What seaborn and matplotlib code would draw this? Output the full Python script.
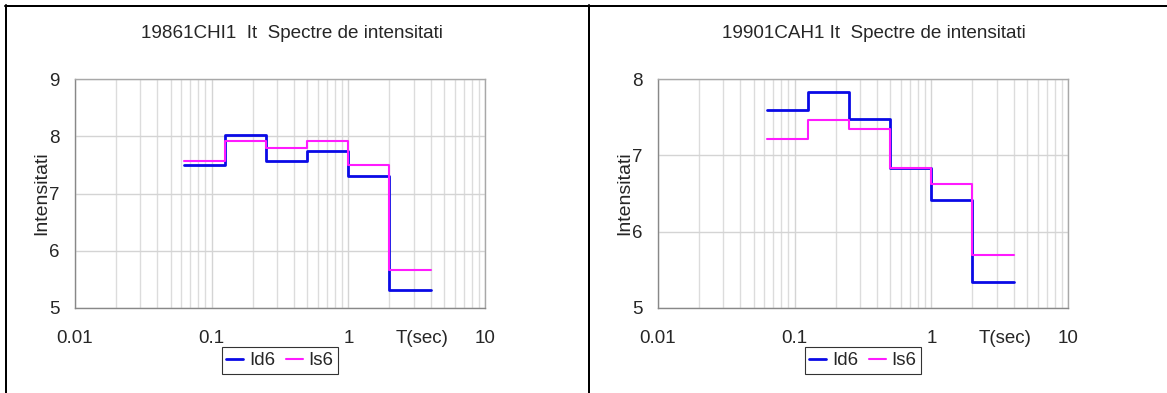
import numpy as np
import pandas as pd
import matplotlib
matplotlib.use("Agg")
import matplotlib.pyplot as plt
from matplotlib.lines import Line2D
from matplotlib.ticker import LogLocator, FixedLocator, NullFormatter
import seaborn as sns

# ---- data ----
periods = [0.0625, 0.125, 0.25, 0.5, 1, 2, 4]
left_title = "19861CHI1  It  Spectre de intensitati"
left_id6 = [7.50, 8.02, 7.57, 7.75, 7.31, 5.31]
left_is6 = [7.57, 7.92, 7.80, 7.91, 7.50, 5.66]
right_title = "19901CAH1 It  Spectre de intensitati"
right_id6 = [7.59, 7.83, 7.48, 6.83, 6.42, 5.34]
right_is6 = [7.22, 7.46, 7.35, 6.83, 6.62, 5.70]
series_names = ["Id6", "Is6"]
x_ticks = [0.01, 0.1, 1, 10]
x_tick_labels = ["0.01", "0.1", "1", "10"]
left_yticks = [5, 6, 7, 8, 9]
right_yticks = [5, 6, 7, 8]

sns.set_style("white")
plt.rcParams["font.family"] = ["Liberation Sans", "DejaVu Sans"]

W, H = 1167, 393
fig = plt.figure(figsize=(W / 100, H / 100), dpi=100)

def px_axes(x0, y0, x1, y1):
    return fig.add_axes([x0 / W, 1 - y1 / H, (x1 - x0) / W, (y1 - y0) / H])

palette = {"Id6": "#0a0ae6", "Is6": "#ff1aff"}
widths = {"Id6": 2.0, "Is6": 1.5}

def draw(ax, id6, is6, yticks, title, title_x):
    for name, vals in zip(series_names, [id6, is6]):
        df = pd.DataFrame({"T": periods, "I": list(vals) + [vals[-1]]})
        sns.lineplot(data=df, x="T", y="I", ax=ax, color=palette[name],
                     lw=widths[name], drawstyle="steps-post", label=name,
                     legend=False)
    ax.set_xscale("log")
    ax.set_xlim(0.01, 10)
    ax.set_ylim(yticks[0], yticks[-1])
    ax.xaxis.set_major_locator(FixedLocator(x_ticks))
    ax.set_xticklabels(x_tick_labels)
    ax.xaxis.set_minor_locator(LogLocator(base=10, subs=np.arange(2, 10)))
    ax.xaxis.set_minor_formatter(NullFormatter())
    ax.set_yticks(yticks)
    ax.grid(True, which="major", axis="both", color="#d4d4d4", lw=1.0)
    ax.grid(True, which="minor", axis="x", color="#dcdcdc", lw=1.0)
    ax.set_axisbelow(True)
    for s in ax.spines.values():
        s.set_color("#a8a8a8")
        s.set_linewidth(1.0)
    ax.spines["left"].set_color("#888888")
    ax.spines["bottom"].set_color("#888888")
    ax.tick_params(axis="both", which="major", direction="out", length=5,
                   width=1, color="#888888", labelsize=13.5)
    ax.tick_params(axis="x", which="minor", length=0)
    ax.tick_params(axis="x", which="major", pad=11)
    ax.tick_params(axis="y", which="major", pad=6)
    ax.set_ylabel("Intensitati", fontsize=14, labelpad=-1)
    ax.set_xlabel("T(sec)", fontsize=13.5)
    ax.xaxis.set_label_coords(0.846, -0.098)
    ax.xaxis.label.set_va("top")
    handles = [Line2D([], [], color=palette[n], lw=widths[n]) for n in series_names]
    leg = ax.legend(handles, series_names, ncol=2, loc="upper center",
                    bbox_to_anchor=(0.5, -0.172), borderaxespad=0,
                    fontsize=13.5, frameon=True, fancybox=False,
                    handlelength=0.9, handletextpad=0.3, columnspacing=0.6,
                    borderpad=0.25)
    leg.get_frame().set_edgecolor("black")
    leg.get_frame().set_linewidth(0.8)
    fig.text(title_x / W, 1 - 33 / H, title, ha="center", va="center",
             fontsize=13.6)

ax1 = px_axes(75, 79, 485, 308)
ax2 = px_axes(658, 79, 1068, 308)
draw(ax1, left_id6, left_is6, left_yticks, left_title, 292)
draw(ax2, right_id6, right_is6, right_yticks, right_title, 874)

# panel borders
lw_b = 2.0 * 72 / 100
fig.add_artist(Line2D([5 / W, 1], [1 - 6 / H, 1 - 6 / H], color="black", lw=lw_b))
fig.add_artist(Line2D([6 / W, 6 / W], [0, 1 - 5 / H], color="black", lw=lw_b))
fig.add_artist(Line2D([589 / W, 589 / W], [0, 1 - 5 / H], color="black", lw=lw_b))

fig.savefig("out.png", dpi=100)
